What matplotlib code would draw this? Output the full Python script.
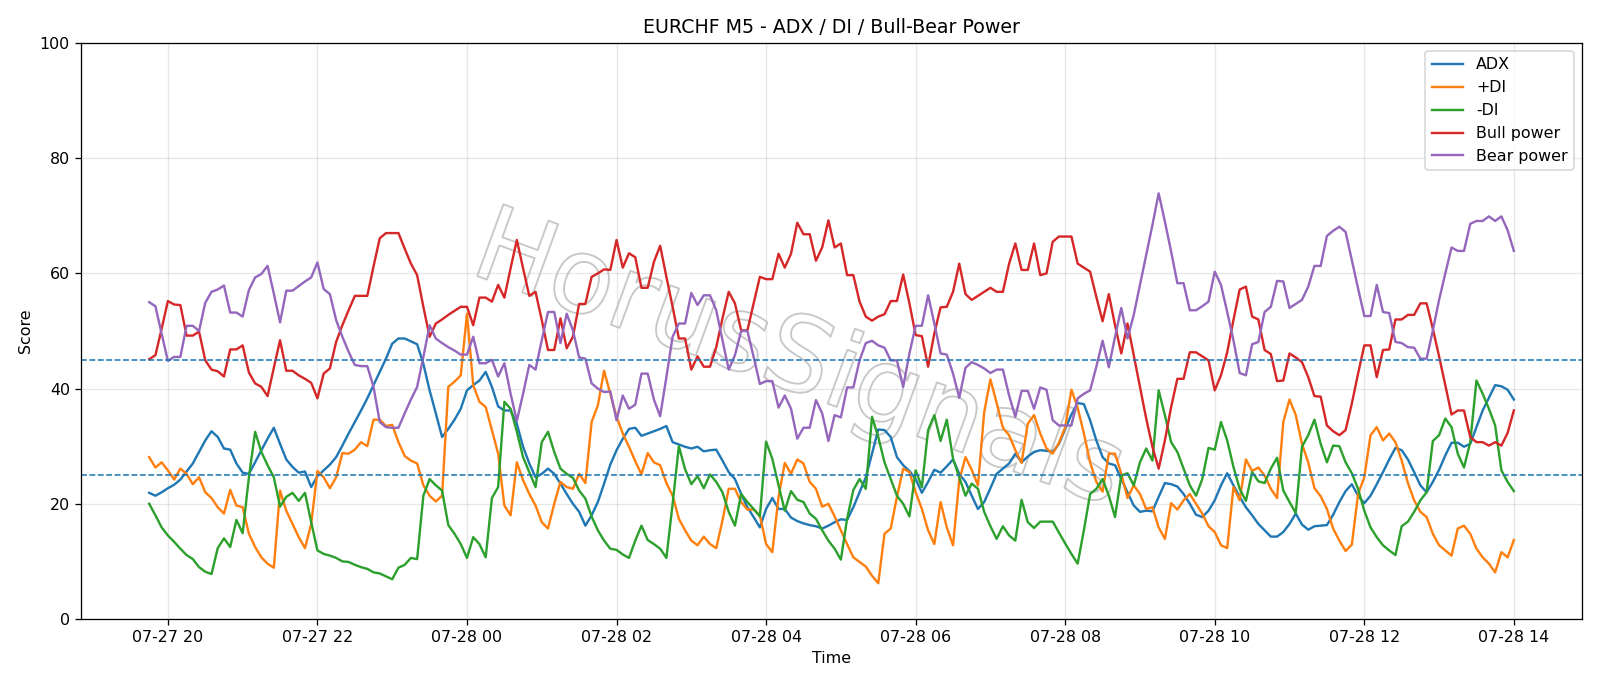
import numpy as np
import pandas as pd
import matplotlib
matplotlib.use("Agg")
import matplotlib.pyplot as plt
import matplotlib.dates as mdates
from matplotlib import patheffects as pe

title = "EURCHF M5 - ADX / DI / Bull-Bear Power"
start_time = "2025-07-27 19:45"
levels = [45, 25]

adx = [
    21.9, 21.4, 22.0, 22.7, 23.3, 24.2, 25.6, 27.0, 29.0, 31.0,
    32.6, 31.6, 29.6, 29.4, 27.0, 25.4, 25.2, 27.2, 29.3, 31.3,
    33.2, 30.4, 27.7, 26.4, 25.4, 25.6, 22.9, 24.8,
    25.8, 26.8, 28.1, 30.1, 32.2, 34.2, 36.2, 38.3, 40.6, 42.9,
    45.2, 47.8, 48.7, 48.7, 48.2, 47.7, 44.3, 39.7, 35.7, 31.6,
    33.0, 34.6, 36.5, 39.7, 40.6, 41.4, 42.9, 40.3, 36.9, 36.2,
    36.2, 33.9, 29.9, 27.0, 24.6, 25.2, 26.1, 25.2, 23.5, 21.7,
    20.0, 18.6, 16.2, 18.0, 20.3, 23.5, 26.8, 29.3, 31.3, 33.0,
    33.2, 31.8, 32.2, 32.6, 33.0, 33.5, 30.7, 30.3, 29.9,
    29.6, 29.9, 29.1, 29.3, 29.4, 27.5, 25.5, 24.3, 21.7, 19.4,
    17.7, 15.9, 19.1, 21.0, 19.1, 19.1, 17.6, 17.0, 16.6, 16.3,
    16.1, 15.7, 16.2, 16.8, 17.3, 17.2, 19.4, 22.0, 24.6,
    28.7, 32.9, 32.8, 31.6, 28.1, 26.7, 25.7, 24.3, 21.9, 23.8,
    25.9, 25.4, 26.5, 27.7, 25.2, 23.8, 21.4, 19.1, 20.3, 22.7,
    25.2, 26.1, 27.0, 28.7, 27.2, 28.2, 29.0, 29.3, 29.2,
    29.0, 30.4, 33.0, 35.5, 37.5, 37.3, 34.5, 31.0, 28.1, 27.0,
    26.7, 24.3, 22.0, 19.7, 18.6, 18.8, 18.7, 21.2, 23.6, 23.4,
    23.0, 21.7, 20.0, 18.1, 17.7, 18.8, 20.6, 23.2, 25.3,
    23.2, 21.2, 19.4, 18.0, 16.5, 15.4, 14.3, 14.3, 15.1, 16.5,
    18.3, 16.4, 15.5, 16.1, 16.2, 16.3, 18.1, 20.3, 22.2, 23.4,
    21.4, 20.1, 21.4, 23.4, 25.5, 27.7,
    29.7, 29.3, 27.7, 25.5, 23.2, 22.0, 23.8, 25.9, 28.4, 30.6,
    30.6, 29.9, 30.4, 33.3, 36.2, 38.4, 40.6, 40.4, 39.8, 38.1,
]

plus_di = [
    28.1, 26.3, 27.2, 25.8, 24.2, 26.1, 25.2, 23.4, 24.6, 22.0,
    21.0, 19.4, 18.3, 22.4, 19.7, 19.4, 14.8, 12.5, 10.7, 9.6,
    8.9, 22.3, 18.8, 16.5, 14.2, 12.3, 16.5, 25.7,
    24.6, 22.7, 24.6, 28.8, 28.7, 29.4, 30.7, 30.0, 34.6, 34.6,
    33.5, 33.7, 30.7, 28.3, 27.5, 27.0, 23.2, 21.4, 20.4, 21.4,
    40.3, 41.2, 42.3, 53.0, 40.6, 37.7, 36.8, 32.8, 28.7, 19.7,
    18.0, 27.2, 24.1, 21.7, 19.7, 16.8, 15.7, 20.0, 23.8, 22.9,
    22.6, 25.2, 23.6, 34.2, 37.1, 43.1, 39.1, 35.1, 32.2, 29.9,
    27.4, 25.1, 28.8, 27.2, 26.7, 23.6, 21.4, 17.4, 15.4,
    13.6, 12.8, 14.3, 13.0, 12.3, 17.1, 22.6, 22.6, 20.3, 19.0,
    19.0, 18.0, 13.0, 11.6, 21.2, 27.1, 25.2, 27.7, 27.0, 23.8,
    22.6, 19.5, 20.0, 17.8, 15.4, 13.0, 10.7, 9.9, 9.1,
    7.5, 6.2, 14.8, 15.7, 21.2, 26.1, 25.5, 22.0, 19.1, 15.4,
    13.0, 20.3, 15.9, 12.8, 24.1, 28.1, 25.9, 23.2, 35.9, 41.6,
    37.5, 33.2, 31.9, 29.3, 27.1, 33.9, 35.4, 32.2, 29.6,
    28.7, 30.6, 33.3, 39.8, 36.7, 32.2, 27.2, 23.8, 22.1, 28.7,
    28.7, 25.2, 21.0, 23.2, 21.7, 19.1, 19.4, 15.9, 13.9, 20.1,
    19.0, 20.6, 21.7, 20.0, 18.3, 16.1, 15.1, 12.8, 12.3,
    22.9, 20.6, 27.7, 25.7, 26.3, 24.9, 22.6, 21.0, 34.2, 38.1,
    35.4, 30.4, 27.2, 22.7, 21.3, 19.1, 15.7, 13.6, 11.8, 12.9,
    21.7, 24.6, 31.9, 33.3, 31.0, 32.2,
    30.7, 27.5, 23.6, 20.6, 18.6, 17.7, 14.8, 12.8, 11.9, 11.0,
    15.7, 16.2, 14.8, 12.2, 10.7, 9.6, 8.1, 11.6, 10.7, 13.7,
]

minus_di = [
    20.0, 18.0, 15.9, 14.5, 13.4, 12.2, 11.1, 10.4, 9.0, 8.2,
    7.8, 12.3, 14.0, 12.5, 17.2, 14.9, 24.6, 32.5, 29.0, 26.7,
    24.6, 19.5, 21.2, 21.9, 20.5, 21.9, 16.8, 11.9,
    11.3, 11.0, 10.6, 10.0, 9.9, 9.4, 9.0, 8.7, 8.1, 7.9,
    7.4, 6.9, 8.9, 9.4, 10.6, 10.4, 21.4, 24.3, 23.2, 22.3,
    16.3, 14.8, 13.0, 10.6, 14.2, 13.0, 10.7, 21.0, 22.9, 37.7,
    36.5, 32.5, 28.1, 25.5, 22.9, 30.7, 32.5, 29.0, 26.1, 25.2,
    24.5, 22.3, 20.9, 17.8, 15.4, 13.6, 12.2, 12.0, 11.2, 10.6,
    13.6, 16.2, 13.7, 13.0, 12.2, 10.6, 20.0, 30.0, 26.0,
    23.4, 24.8, 22.7, 25.1, 23.8, 22.0, 18.6, 16.2, 21.7, 20.3,
    19.1, 17.8, 30.8, 27.8, 23.2, 18.8, 22.2, 20.7, 20.3, 18.3,
    17.4, 15.4, 13.6, 12.2, 10.3, 17.4, 22.4, 24.3, 22.6,
    35.1, 31.6, 27.2, 24.3, 21.4, 20.0, 17.8, 25.8, 22.9, 32.8,
    35.4, 30.9, 34.6, 27.8, 24.6, 21.4, 23.5, 22.6, 18.6, 16.1,
    13.9, 16.1, 14.5, 13.6, 20.7, 16.8, 15.8, 16.9, 16.9,
    16.9, 15.0, 13.1, 11.3, 9.6, 15.4, 21.7, 22.6, 24.3, 21.4,
    17.7, 24.9, 25.3, 23.2, 27.2, 29.6, 27.5, 39.7, 35.4, 30.7,
    29.0, 26.1, 23.2, 21.4, 24.3, 29.7, 29.4, 34.2, 31.0,
    26.4, 22.6, 20.5, 25.5, 23.9, 23.6, 26.1, 28.0, 22.3, 20.3,
    18.4, 29.9, 31.9, 34.6, 30.4, 27.2, 30.1, 30.0, 27.2, 25.3,
    22.6, 18.8, 15.9, 14.2, 12.8, 11.9,
    11.1, 16.1, 16.9, 18.6, 20.6, 22.0, 30.9, 31.9, 34.8, 33.3,
    28.7, 26.3, 30.7, 41.4, 39.1, 36.5, 33.6, 25.8, 23.8, 22.2,
]

bull_power = [
    45.1, 45.8, 50.4, 55.2, 54.6, 54.5, 49.2, 49.2, 49.9, 44.9,
    43.3, 43.0, 42.1, 46.8, 46.8, 47.5, 42.8, 40.9, 40.3, 38.7,
    43.6, 48.4, 43.1, 43.1, 42.3, 41.7, 41.0, 38.3,
    42.6, 43.5, 48.1, 51.0, 53.6, 56.1, 56.1, 56.1, 61.2, 66.1,
    67.0, 67.0, 67.0, 64.3, 61.7, 59.7, 54.2, 49.0, 51.3, 52.0,
    52.8, 53.5, 54.2, 54.2, 51.0, 55.8, 55.8, 55.1, 58.0, 55.8,
    60.9, 65.8, 60.9, 56.1, 56.8, 51.9, 46.7, 46.7, 52.2, 47.0,
    49.0, 54.7, 54.7, 59.4, 60.0, 60.7, 60.6, 65.8, 61.0, 63.5,
    62.8, 57.5, 57.5, 62.0, 64.8, 59.4, 54.2, 48.7, 48.7,
    43.3, 45.6, 43.8, 43.8, 47.2, 52.2, 56.8, 54.8, 50.1, 50.1,
    54.8, 59.4, 59.0, 59.0, 63.4, 61.0, 63.4, 68.8, 66.8, 66.8,
    62.2, 64.5, 69.2, 64.5, 65.2, 59.7, 59.7, 55.1, 52.5,
    51.8, 52.5, 52.9, 55.2, 55.2, 59.8, 54.8, 49.3, 49.1, 43.8,
    49.6, 54.1, 54.2, 56.8, 61.7, 56.4, 55.4, 56.1, 56.8, 57.5,
    56.8, 56.8, 61.7, 65.2, 60.6, 60.6, 65.2, 59.7, 60.0,
    65.5, 66.4, 66.4, 66.4, 61.7, 61.0, 60.3, 55.9, 51.7, 56.4,
    51.0, 46.1, 51.3, 45.8, 40.3, 34.8, 29.9, 26.1, 31.0, 36.8,
    41.7, 41.7, 46.3, 46.3, 45.6, 44.9, 39.7, 42.3, 46.3,
    51.9, 57.2, 57.7, 52.5, 52.0, 46.7, 46.0, 41.3, 41.4, 46.1,
    45.4, 44.6, 42.0, 38.7, 38.6, 33.6, 32.6, 31.9, 32.8, 37.4,
    42.6, 47.5, 47.5, 42.0, 46.7, 46.8,
    52.0, 52.0, 52.8, 52.8, 54.8, 54.8, 50.4, 45.6, 40.6, 35.5,
    36.2, 36.2, 31.6, 30.7, 30.7, 30.1, 30.7, 30.1, 32.3, 36.2,
]

bear_power = [
    55.0, 54.3, 49.5, 44.8, 45.5, 45.5, 50.9, 50.9, 50.0, 54.9,
    56.8, 57.2, 57.9, 53.2, 53.2, 52.5, 57.1, 59.3, 59.9, 61.3,
    56.5, 51.5, 57.0, 57.0, 57.8, 58.6, 59.3, 61.9,
    57.3, 56.4, 51.9, 49.0, 46.4, 44.1, 43.9, 43.9, 40.3, 34.2,
    33.3, 33.2, 33.2, 35.7, 38.1, 40.3, 45.5, 51.0, 48.7, 47.9,
    47.2, 46.6, 45.9, 45.9, 49.0, 44.4, 44.4, 45.0, 42.1, 44.4,
    39.1, 34.4, 39.1, 44.1, 43.3, 48.4, 53.3, 53.3, 47.9, 53.0,
    50.1, 45.4, 45.2, 40.9, 40.0, 39.4, 39.5, 34.5, 38.8, 36.5,
    37.2, 42.6, 42.6, 38.1, 35.2, 42.0, 49.0, 51.3, 51.3,
    56.6, 54.5, 56.2, 56.2, 53.6, 48.4, 43.3, 45.8, 50.0, 50.0,
    45.5, 40.8, 41.3, 41.3, 36.7, 38.8, 36.5, 31.3, 33.2, 33.2,
    38.0, 35.7, 30.9, 35.4, 35.0, 40.2, 40.2, 44.9, 47.9,
    48.3, 47.5, 47.1, 44.9, 44.9, 40.3, 46.1, 50.9, 50.9, 56.2,
    51.3, 46.1, 45.9, 42.6, 38.4, 43.6, 44.6, 44.1, 43.5, 42.7,
    43.3, 43.3, 38.8, 35.1, 39.6, 39.6, 36.5, 40.2, 39.8,
    34.5, 33.6, 33.6, 33.6, 38.3, 39.1, 39.7, 43.8, 48.3, 43.7,
    49.0, 54.0, 48.7, 52.8, 58.0, 63.2, 68.4, 73.9, 69.0, 63.8,
    58.3, 58.3, 53.6, 53.6, 54.3, 55.1, 60.3, 58.0, 53.3,
    48.4, 42.7, 42.3, 47.7, 48.1, 53.3, 54.2, 58.7, 58.6, 54.0,
    54.7, 55.4, 57.7, 61.3, 61.3, 66.5, 67.4, 68.1, 67.2, 62.3,
    57.4, 52.6, 52.6, 58.0, 53.3, 53.1,
    48.1, 47.9, 47.2, 47.1, 45.2, 45.2, 50.1, 55.4, 60.0, 64.5,
    63.9, 63.9, 68.6, 69.1, 69.1, 69.9, 69.1, 69.9, 67.5, 63.9,
]

series = [
    ("ADX", adx),
    ("+DI", plus_di),
    ("-DI", minus_di),
    ("Bull power", bull_power),
    ("Bear power", bear_power),
]

n = len(adx)
times = pd.date_range(start_time, periods=n, freq="5min")

DPI = 1600 / 14
fig, ax = plt.subplots(figsize=(14, 686 / DPI), dpi=DPI)

for name, vals in series:
    ax.plot(times, vals, label=name, linewidth=1.5)

for lv in levels:
    ax.axhline(lv, color="C0", linestyle="--", linewidth=1)

ax.set_ylim(0, 100)
ax.set_title(title)
ax.set_xlabel("Time")
ax.set_ylabel("Score")
ax.xaxis.set_major_locator(mdates.HourLocator(byhour=range(0, 24, 2)))
ax.xaxis.set_major_formatter(mdates.DateFormatter("%m-%d %H"))
ax.grid(True, alpha=0.3)
ax.legend(loc="upper right")

ax.text(0.478, 0.446, "HorusSignals", transform=ax.transAxes,
        fontsize=66, rotation=-20, ha="center", va="center",
        rotation_mode="anchor", color="none", zorder=1,
        path_effects=[pe.Stroke(linewidth=1.2, foreground="#c8c8c8")])

fig.subplots_adjust(left=0.0506, right=0.9888, bottom=0.0977, top=0.9373)
fig.savefig("out.png", dpi=DPI)
